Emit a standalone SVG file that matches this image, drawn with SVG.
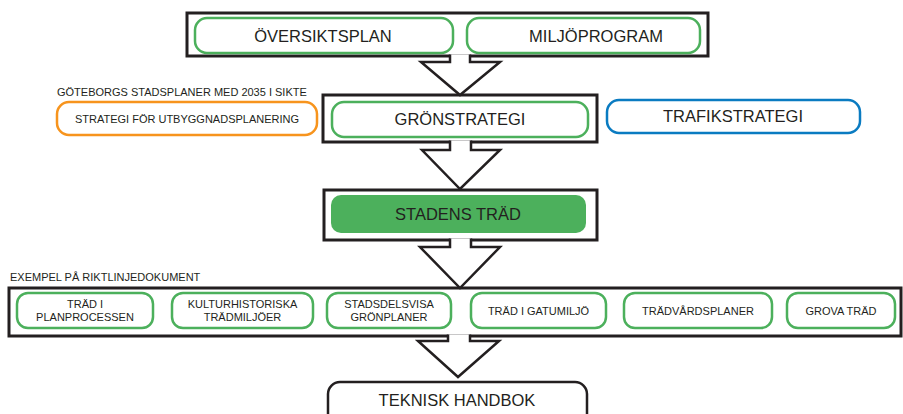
<svg xmlns="http://www.w3.org/2000/svg" width="903" height="414" viewBox="0 0 903 414">
<style>
text{font-family:"Liberation Sans",Arial,sans-serif;fill:#231f20;text-anchor:middle}
.frame{fill:none;stroke:#231f20;stroke-width:3}
.g{fill:#fff;stroke:#4cb05c;stroke-width:2.5}
.lg{font-size:16.5px}
.sm{font-size:11px}
.lbl{font-size:11px;text-anchor:start}
.arrow{fill:#fff;stroke:#231f20;stroke-width:2.5;stroke-linejoin:miter}
</style>
<rect width="903" height="414" fill="#fff"/>
<g id="frames">
<rect class="frame" x="187" y="13" width="521" height="43"/>
<rect class="frame" x="323" y="95" width="274" height="47"/>
<rect class="frame" x="324" y="190" width="273" height="50"/>
<rect class="frame" x="9" y="288" width="892" height="48"/>
</g>
<g id="connectors">
<path class="arrow" d="M450,54.5 V62 H421 L460,95 L500,62 H470 V54.5"/>
<path class="arrow" d="M450,140.5 V150 H422 L460,189 L500,150 H471 V140.5"/>
<path class="arrow" d="M450,238.5 V247 H420 L460,288 L500,247 H471 V238.5"/>
<path class="arrow" d="M448,334.5 V341 H418 L458,377 L499,341 H470 V334.5"/>
</g>
<g id="oversiktsplan">
<rect class="g" x="195" y="18" width="258" height="35" rx="12"/>
<text class="lg" x="323" y="42">ÖVERSIKTSPLAN</text>
</g>
<g id="miljoprogram">
<rect class="g" x="467" y="18" width="233" height="35" rx="12"/>
<text class="lg" x="596" y="42">MILJÖPROGRAM</text>
</g>
<g id="label-goteborg">
<text class="lbl" x="57" y="96">GÖTEBORGS STADSPLANER MED 2035 I SIKTE</text>
</g>
<g id="utbyggnad">
<rect x="57" y="102" width="260" height="33" rx="12" fill="#fff" stroke="#f7941d" stroke-width="2.5"/>
<text class="sm" x="187" y="123">STRATEGI FÖR UTBYGGNADSPLANERING</text>
</g>
<g id="gronstrategi">
<rect class="g" x="332" y="102" width="256" height="35" rx="12"/>
<text class="lg" x="460" y="125">GRÖNSTRATEGI</text>
</g>
<g id="trafikstrategi">
<rect x="607" y="100" width="253" height="33" rx="12" fill="#fff" stroke="#0a7bc1" stroke-width="2.5"/>
<text class="lg" x="733" y="122">TRAFIKSTRATEGI</text>
</g>
<g id="stadens-trad">
<rect x="331" y="195" width="255" height="38" rx="10" fill="#4cb05c"/>
<text class="lg" x="458" y="220">STADENS TRÄD</text>
</g>
<g id="label-exempel">
<text class="lbl" x="10" y="281">EXEMPEL PÅ RIKTLINJEDOKUMENT</text>
</g>
<g id="trad-planprocessen">
<rect class="g" x="17" y="293" width="136" height="35" rx="11"/>
<text class="sm" x="85" y="307.5">TRÄD I</text>
<text class="sm" x="85" y="321">PLANPROCESSEN</text>
</g>
<g id="kulturhistoriska">
<rect class="g" x="172" y="293" width="141" height="35" rx="11"/>
<text class="sm" x="242.5" y="307.5">KULTURHISTORISKA</text>
<text class="sm" x="242.5" y="321">TRÄDMILJÖER</text>
</g>
<g id="stadsdelsvisa">
<rect class="g" x="327" y="293" width="124" height="35" rx="11"/>
<text class="sm" x="389" y="307.5">STADSDELSVISA</text>
<text class="sm" x="389" y="321">GRÖNPLANER</text>
</g>
<g id="gatumiljo">
<rect class="g" x="471" y="293" width="135" height="35" rx="11"/>
<text class="sm" x="538.5" y="315">TRÄD I GATUMILJÖ</text>
</g>
<g id="tradvardsplaner">
<rect class="g" x="624" y="293" width="148" height="35" rx="11"/>
<text class="sm" x="698" y="315">TRÄDVÅRDSPLANER</text>
</g>
<g id="grova-trad">
<rect class="g" x="787" y="293" width="108" height="35" rx="11"/>
<text class="sm" x="841" y="315">GROVA TRÄD</text>
</g>
<g id="teknisk-handbok">
<rect x="328" y="382" width="259" height="45" rx="12" fill="#fff" stroke="#231f20" stroke-width="2.5"/>
<text class="lg" x="457" y="406">TEKNISK HANDBOK</text>
</g>
</svg>
